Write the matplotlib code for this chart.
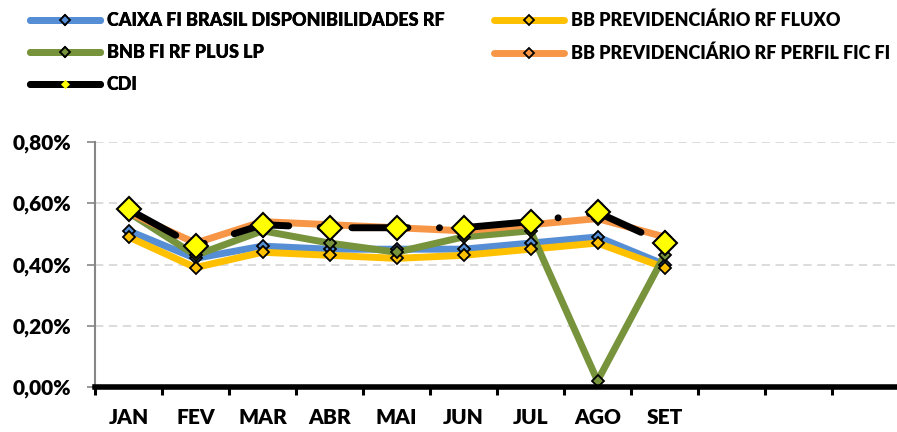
import matplotlib
matplotlib.use("Agg")
import matplotlib.pyplot as plt
from matplotlib.lines import Line2D
from matplotlib.ticker import FuncFormatter, FixedLocator

months = ["JAN", "FEV", "MAR", "ABR", "MAI", "JUN", "JUL", "AGO", "SET", "", "", ""]
caixa = [0.51, 0.42, 0.46, 0.45, 0.45, 0.45, 0.47, 0.49, 0.40]
fluxo = [0.49, 0.39, 0.44, 0.43, 0.42, 0.43, 0.45, 0.47, 0.39]
bnb = [0.57, 0.43, 0.51, 0.47, 0.44, 0.49, 0.51, 0.02, 0.43]
perfil = [0.57, 0.47, 0.54, 0.53, 0.52, 0.51, 0.53, 0.55, 0.49]
cdi = [0.58, 0.46, 0.53, 0.52, 0.52, 0.52, 0.54, 0.57, 0.47]

names = ["CAIXA FI BRASIL DISPONIBILIDADES RF", "BB PREVIDENCIÁRIO RF FLUXO",
         "BNB FI RF PLUS LP", "BB PREVIDENCIÁRIO RF PERFIL FIC FI", "CDI"]
colors = ["#558ED5", "#FFC000", "#77933C", "#F79646", "#000000"]

plt.rcParams['font.family'] = ['Lato', 'DejaVu Sans']
plt.rcParams['font.weight'] = 'heavy'
plt.rcParams['lines.scale_dashes'] = False
FW = 'heavy'

W, H = 897, 432
fig = plt.figure(figsize=(W / 100, H / 100), dpi=100)
ax = fig.add_axes([95 / W, (H - 387) / H, 804 / W, 245 / H])

x = list(range(12))
series = [caixa, fluxo, bnb, perfil]
lw = 5.0
for vals, c in zip(series, colors[:4]):
    xs = x[:len(vals)]
    ax.plot(xs, vals, color=c, lw=lw, solid_capstyle='round', zorder=3)
    ax.plot(xs, vals, ls='none', marker='D', ms=5.8, mfc=c, mec='black', mew=1.3, zorder=4)

xs = x[:len(cdi)]
ax.plot(xs, cdi, color='black', lw=lw, dash_capstyle='round',
        ls=(1.5, (40.3, 22.7, 0.1, 22.7)), zorder=5)
ax.plot(xs, cdi, ls='none', marker='D', ms=12.5, mfc='#FFFF00', mec='black', mew=1.5, zorder=6)

ax.set_xlim(-0.5, 11.5)
ax.set_ylim(0, 0.8)
ax.xaxis.set_major_locator(FixedLocator(x))
ax.set_xticklabels(months, fontsize=15, fontweight=FW)
ax.xaxis.set_minor_locator(FixedLocator([i - 0.5 for i in range(13)]))
ax.tick_params(axis='x', which='major', length=0, pad=15)
ax.tick_params(axis='x', which='minor', length=6, width=2.2, color='black', direction='out')

ax.set_yticks([0, 0.2, 0.4, 0.6, 0.8])
ax.yaxis.set_major_formatter(FuncFormatter(lambda v, p: f"{v:.2f}%".replace('.', ',')))
ax.tick_params(axis='y', length=6, width=1.2, color='#868686', pad=11, labelsize=15)
for lab in ax.get_yticklabels():
    lab.set_fontweight(FW)

ax.grid(axis='y', color='#D9D9D9', lw=1.3, ls=(0, (6, 4)))
ax.set_axisbelow(True)
for s in ['top', 'right']:
    ax.spines[s].set_visible(False)
ax.spines['left'].set_color('#868686')
ax.spines['left'].set_linewidth(1.5)
ax.spines['bottom'].set_color('black')
ax.spines['bottom'].set_linewidth(4)
ax.spines['bottom'].set_zorder(7)

handles = []
for n, c in zip(names, colors):
    if n == "CDI":
        h = Line2D([], [], color='black', lw=lw, solid_capstyle='round', marker='D',
                   ms=4, mfc='#FFFF00', mec='#FFFF00', mew=0.5)
    else:
        h = Line2D([], [], color=c, lw=lw, solid_capstyle='round', marker='D',
                   ms=5.5, mfc=c, mec='black', mew=1.3)
    handles.append(h)

common = dict(loc='upper left', frameon=False, prop={'weight': FW, 'size': 13},
              handlelength=3.9, handletextpad=0.35, labelspacing=0.83,
              borderaxespad=0, borderpad=0)
leg1 = fig.legend([handles[0], handles[2], handles[4]], [names[0], names[2], names[4]],
                  bbox_to_anchor=(30 / W, 1 - 12 / H), **common)
fig.add_artist(leg1)
leg2 = fig.legend([handles[1], handles[3]], [names[1], names[3]],
                  bbox_to_anchor=(494 / W, 1 - 12 / H), **common)

fig.savefig("out.png", dpi=100)
